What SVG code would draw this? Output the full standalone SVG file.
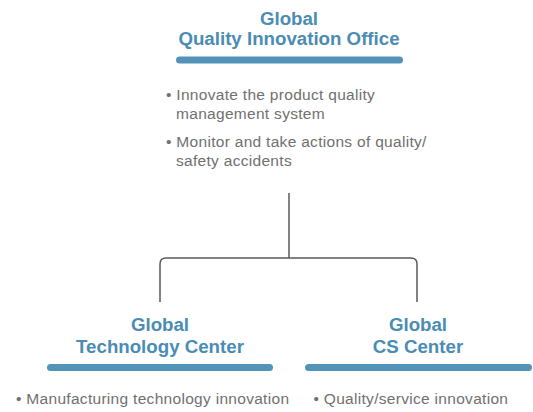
<svg xmlns="http://www.w3.org/2000/svg" width="533" height="412" viewBox="0 0 533 412">
<style>
.title{font-family:"Liberation Sans",Arial,sans-serif;font-weight:bold;font-size:18.7px;fill:#4a8cb3;text-anchor:middle}
.body{font-family:"Liberation Sans",Arial,sans-serif;font-size:15.5px;fill:#707070;letter-spacing:0.3px}
.bar{fill:#5393b7}
.conn{fill:none;stroke:#5a5a5a;stroke-width:1.5}
</style>
<rect width="533" height="412" fill="#ffffff"/>
<g id="connectors">
<path class="conn" d="M289 193 V258"/>
<path class="conn" d="M160 302 V264 Q160 258 166 258 H411 Q417 258 417 264 V302"/>
</g>
<g id="node-qio">
<text class="title" x="289" y="25">Global</text>
<text class="title" x="289" y="45">Quality Innovation Office</text>
<rect class="bar" x="176" y="56.5" width="227" height="7" rx="3.5"/>
<text class="body" x="166" y="100">• Innovate the product quality</text>
<text class="body" x="176" y="119">management system</text>
<text class="body" x="166" y="147">• Monitor and take actions of quality/</text>
<text class="body" x="176" y="166">safety accidents</text>
</g>
<g id="node-gtc">
<text class="title" x="160" y="331">Global</text>
<text class="title" x="160" y="353">Technology Center</text>
<rect class="bar" x="47" y="364" width="226" height="7" rx="3.5"/>
<text class="body" x="16" y="404">• Manufacturing technology innovation</text>
</g>
<g id="node-gcs">
<text class="title" x="418" y="331">Global</text>
<text class="title" x="418" y="353">CS Center</text>
<rect class="bar" x="305" y="364" width="227" height="7" rx="3.5"/>
<text class="body" x="313.5" y="404">• Quality/service innovation</text>
</g>
</svg>
